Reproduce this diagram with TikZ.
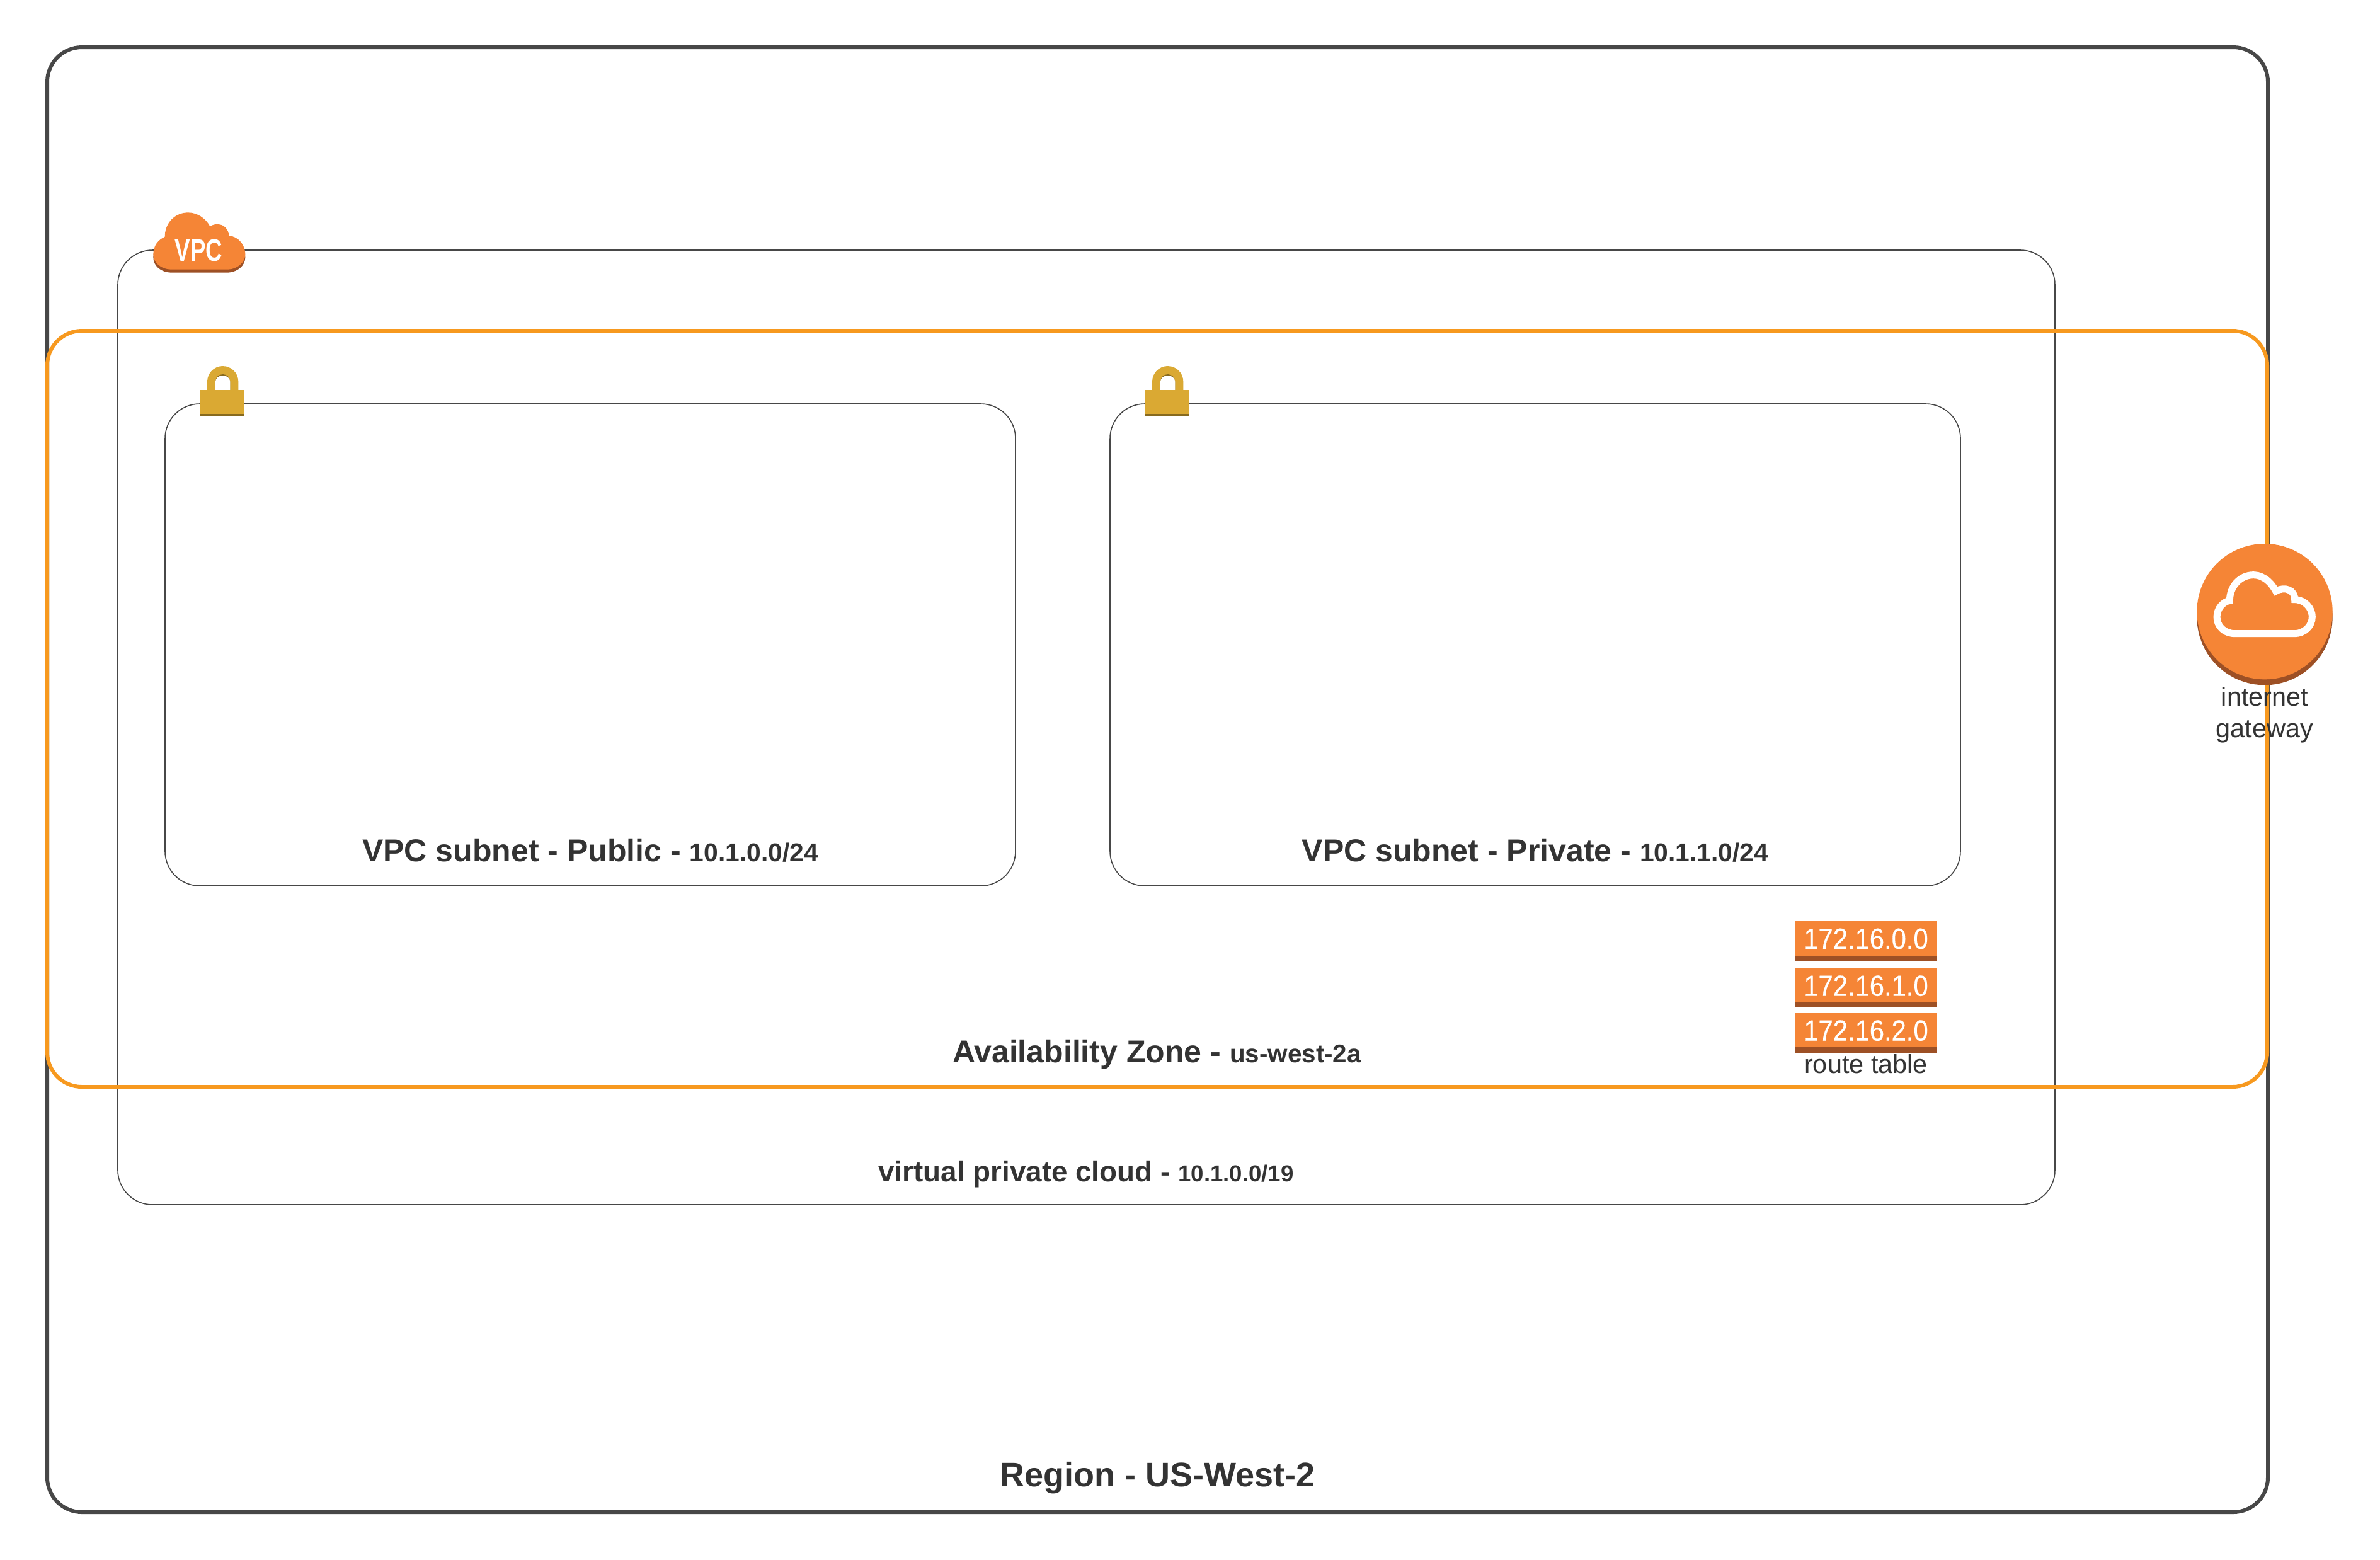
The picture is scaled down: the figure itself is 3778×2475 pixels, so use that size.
\documentclass[tikz,border=0pt]{standalone}
\usepackage{fontspec}
\usepackage{graphicx}
\setmainfont{Liberation Sans}
\newfontfamily\rtfont[FakeBold=0.35]{Liberation Sans}
\definecolor{linegrey}{HTML}{474747}
\definecolor{azorange}{HTML}{F7991F}
\definecolor{awsorange}{HTML}{F58536}
\definecolor{awsdark}{HTML}{9D5025}
\definecolor{lockgold}{HTML}{DAA933}
\definecolor{lockdark}{HTML}{876A1F}
\definecolor{textgrey}{HTML}{333333}
\newcommand{\fs}[1]{\fontsize{#1}{#1}\selectfont}
\tikzset{
  box/.style={draw=linegrey,line width=0.4pt,rounded corners=13.75pt,inner sep=0pt,outer sep=0pt},
  heavybox/.style={box,line width=1.5pt},
  azbox/.style={box,draw=azorange,line width=1.5pt},
  title/.style={anchor=base,inner sep=0pt,text=textgrey,font=\bfseries},
  caption/.style={anchor=base,inner sep=0pt,text=textgrey},
  rtlabel/.style={anchor=base,inner sep=0pt,text=white},
  lockicon/.pic={
    \fill[lockgold] (10.7,0) -- (10.7,-13.65) .. controls (10.7,-27.25) and (21.75,-38.3) .. (35.35,-38.3)
      .. controls (48.95,-38.3) and (60,-27.25) .. (60,-13.65) -- (60,0) -- cycle;
    \fill[lockdark] (23.7,0) -- (23.7,-13.65) .. controls (23.7,-20.08) and (28.92,-25.3) .. (35.35,-25.3)
      .. controls (41.78,-25.3) and (47,-20.08) .. (47,-13.65) -- (47,0) -- cycle;
    \fill[white] (23.7,0) -- (23.7,-13.65) .. controls (23.7,-19) and (29,-23.3) .. (35.35,-23.3)
      .. controls (41.7,-23.3) and (47,-19) .. (47,-13.65) -- (47,0) -- cycle;
    \fill[lockdark] (0,0) rectangle (70,40.7);
    \fill[lockgold] (0,0) rectangle (70,38);
  }
}
\begin{document}
\begin{tikzpicture}[x=0.25pt,y=-0.25pt]
\useasboundingbox (0,0) rectangle (3778,2475);
\fill[white] (0,0) rectangle (3778,2475);

% containers
\node[heavybox,minimum width=881.25pt,minimum height=581.25pt] (region) at (1837.5,1237.5) {};
\node[box,minimum width=768.75pt,minimum height=378.75pt] (vpc) at (1724.5,1154.5) {};
\node[box,minimum width=337.5pt,minimum height=191.25pt] (public) at (937,1023.5) {};
\node[box,minimum width=337.5pt,minimum height=191.25pt] (private) at (2437,1023.5) {};
\node[azbox,minimum width=881pt,minimum height=300pt] (az) at (1837,1125) {};

% titles
\node[title] (publiclabel) at (937,1367) {\fs{12.5}VPC subnet - Public - \fs{10.2}10.1.0.0/24};
\node[title] (privatelabel) at (2437,1367) {\fs{12.5}VPC subnet - Private - \fs{10.2}10.1.1.0/24};
\node[title] (azlabel) at (1836.5,1686) {\fs{12.5}Availability Zone - \fs{10.1}us-west-2a};
\node[title] (vpclabel) at (1724,1875) {\fs{11.45}virtual private cloud - \fs{9.15}10.1.0.0/19};
\node[title] (regionlabel) at (1837.5,2359) {\fs{13.5}Region - US-West-2};

% padlocks
\pic at (318.3,619.3) {lockicon};
\pic at (1818.3,619.3) {lockicon};

% VPC cloud
\begin{scope}[shift={(180,300)},x=0.083333pt,y=-0.083333pt]
  \fill[awsdark] (245,243) .. controls (245,175) and (295,127) .. (355,127)
    .. controls (400,127) and (440,155) .. (460,193)
    .. controls (475,183) and (490,183) .. (497,183)
    .. controls (525,183) and (548,205) .. (550,237)
    .. controls (600,243) and (628,285) .. (628,325)
    .. controls (628,365) and (590,398) .. (540,398)
    -- (280,398) .. controls (225,398) and (190,365) .. (190,325)
    .. controls (190,285) and (215,255) .. (245,243) -- cycle;
  \fill[awsorange] (245,228) .. controls (245,160) and (295,112) .. (355,112)
    .. controls (400,112) and (440,140) .. (460,178)
    .. controls (475,168) and (490,168) .. (497,168)
    .. controls (525,168) and (548,190) .. (550,222)
    .. controls (600,228) and (628,270) .. (628,310)
    .. controls (628,350) and (590,383) .. (540,383)
    -- (280,383) .. controls (225,383) and (190,350) .. (190,310)
    .. controls (190,270) and (215,240) .. (245,228) -- cycle;
  \node[rtlabel,font=\bfseries] (vpcicon) at (407,344) {\fs{12.4}\scalebox{.74}[1]{VPC}};
\end{scope}

% route table
\begin{scope}[shift={(2780,1430)},x=0.083333pt,y=-0.083333pt]
  \fill[awsdark] (208,97) rectangle (884,285);
  \fill[awsorange] (208,97) rectangle (884,260);
  \fill[awsdark] (208,321) rectangle (884,508);
  \fill[awsorange] (208,321) rectangle (884,483);
  \fill[awsdark] (208,534) rectangle (884,722);
  \fill[awsorange] (208,534) rectangle (884,696);
  \node[rtlabel] (rt1) at (546,228) {\rtfont\fs{11.6}\scalebox{.9}[1]{172.16.0.0}};
  \node[rtlabel] (rt2) at (546,452) {\rtfont\fs{11.6}\scalebox{.9}[1]{172.16.1.0}};
  \node[rtlabel] (rt3) at (546,665) {\rtfont\fs{11.6}\scalebox{.9}[1]{172.16.2.0}};
  \node[caption] (rtlabel) at (546,820) {\fs{10.35}route table};
\end{scope}

% internet gateway
\begin{scope}[shift={(3440,830)},x=0.083333pt,y=-0.083333pt]
  \fill[awsdark] (465,449) circle[radius=323];
  \fill[awsorange] (465,422) circle[radius=323];
  \draw[white,line width=2.75pt,line join=miter]
    (298,370) .. controls (298,300) and (350,248) .. (410,248)
    .. controls (460,248) and (497,285) .. (518,325)
    .. controls (560,300) and (610,320) .. (608,365)
    .. controls (655,365) and (691,405) .. (691,447)
    .. controls (691,490) and (655,527) .. (605,527)
    -- (325,527) .. controls (270,527) and (237,490) .. (237,447)
    .. controls (237,410) and (265,375) .. (298,370) -- cycle;
  \node[caption] (igw1) at (465,872) {\fs{10.35}internet};
  \node[caption] (igw2) at (465,1020) {\fs{10.35}gateway};
\end{scope}
\end{tikzpicture}
\end{document}
